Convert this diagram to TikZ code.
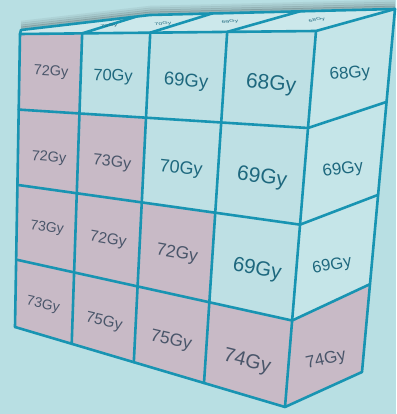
\documentclass[tikz,border=0pt]{standalone}
\usepackage{fontspec}
\setmainfont{Liberation Sans}
\usetikzlibrary{calc}
\definecolor{bgCyan}{RGB}{184,223,227}
\definecolor{cellLight}{RGB}{190,224,228}
\definecolor{cellSide}{RGB}{197,229,232}
\definecolor{cellTop}{RGB}{204,232,235}
\definecolor{cellPink}{RGB}{200,186,198}
\definecolor{gridTeal}{RGB}{24,148,178}
\definecolor{txtTeal}{RGB}{30,104,126}
\definecolor{txtSlate}{RGB}{74,86,106}
\tikzset{
  gridline/.style={draw=gridTeal, line width=2.6pt, line join=round, line cap=round},
  dose/.style={font=\fontsize{#1}{#1}\selectfont, inner sep=0pt}
}

\begin{document}
\begin{tikzpicture}[x=1pt, y=-1pt,
        flat/.style={yscale=0.55, text=txtTeal}]
  \fill[bgCyan] (0,0) rectangle (396,414);
  \useasboundingbox (0,0) rectangle (396,414);
  % corners of the box
  \coordinate (ftl) at (20,34);
  \coordinate (ftr) at (316,31);
  \coordinate (fbr) at (285,407);
  \coordinate (fbl) at (15,327);
  \coordinate (rtr) at (395,9);
  \coordinate (rbr) at (362,372);
  \coordinate (tbl) at (21,30);
  \coordinate (tmid) at (150,15);
  \coordinate (t1) at (135,17);
  \coordinate (t2) at (212,13.5);
  \coordinate (t3) at (300,11.3);
  % soft shadow above the top face
  \foreach \o/\a in {8/0.05,6/0.09,4/0.14,2/0.2}
    \draw[black, opacity=\a, line width=2.5pt]
      ($(tbl)+(0,-\o)$) -- ($(tmid)+(0,-\o)$) -- ($(rtr)+(0,-\o)$);
  % grid points
  \foreach \u [count=\i from 0] in {0,0.21,0.44,0.70,1}
    \foreach \v [count=\j from 0] in {0,0.258,0.515,0.77,1}{
      \coordinate (lt) at ($(ftl)!\v!(fbl)$);
      \coordinate (rt) at ($(ftr)!\v!(fbr)$);
      \coordinate (f\i\j) at ($(lt)!\u!(rt)$);
    }
  \foreach \v [count=\j from 0] in {0,0.256,0.512,0.758,1}
    \coordinate (r\j) at ($(rtr)!\v!(rbr)$);
  % cells
  \foreach \i in {0,...,3}
    \foreach \j in {0,...,3}{
      \pgfmathtruncatemacro{\ii}{\i+1}
      \pgfmathtruncatemacro{\jj}{\j+1}
      \ifnum\i>\j \def\cellcol{cellLight}\else\def\cellcol{cellPink}\fi
      \fill[\cellcol] (f\i\j) -- (f\ii\j) -- (f\ii\jj) -- (f\i\jj) -- cycle;
    }
  \fill[cellSide] (f40) -- (r0) -- (r3) -- (f43) -- cycle;
  \fill[cellPink] (f43) -- (r3) -- (r4) -- (f44) -- cycle;
  \fill[cellTop] (f00) -- (f40) -- (rtr) -- (tmid) -- (tbl) -- cycle;
  % edges
  \foreach \i in {0,...,4}
    \draw[gridline] (f\i0) -- (f\i4);
  \foreach \j in {0,...,4}
    \draw[gridline] (f0\j) -- (f4\j) -- (r\j);
  \draw[gridline] (r0) -- (r4);
  \draw[gridline] (f00) -- (tbl) -- (tmid) -- (rtr);
  \draw[gridline] (f10) -- (t1) (f20) -- (t2) (f30) -- (t3);
  % doses
  \foreach \x/\y/\r/\s/\c/\t [count=\n] in {
      51/72/-3/14.5/txtSlate/72Gy, 113/77/-3/16.5/txtTeal/70Gy,
      186/82/-4/18.5/txtTeal/69Gy, 271/85/-5/21/txtTeal/68Gy,
      350/74/5/17/txtTeal/68Gy,
      49/158/-5/14.5/txtSlate/72Gy, 112/163/-6/16/txtSlate/73Gy,
      181/169/-6/18/txtTeal/70Gy, 262/178/-8/21/txtTeal/69Gy,
      343/170/8/17/txtTeal/69Gy,
      47/228/-8/14/txtSlate/73Gy, 108/240/-10/15.5/txtSlate/72Gy,
      177/254/-10/17.5/txtSlate/72Gy, 257/270/-10/20.5/txtTeal/69Gy,
      332/266/10/16.5/txtTeal/69Gy,
      43/305/-12/14/txtSlate/73Gy, 104/322/-13/15.5/txtSlate/75Gy,
      171/341/-13/17.5/txtSlate/75Gy, 247/362/-14/20/txtSlate/74Gy,
      326/360/12/17/txtSlate/74Gy}
    \node[dose=\s, text=\c, rotate=\r] (d\n) at (\x,\y) {\t};
  \foreach \x/\y/\r/\t [count=\n] in {
      109/26/6/72Gy, 163/24/7/70Gy, 230/22/10/69Gy, 317/20/16/68Gy}
    \node[dose=7, flat, rotate=\r] (top\n) at (\x,\y) {\t};
\end{tikzpicture}
\end{document}
